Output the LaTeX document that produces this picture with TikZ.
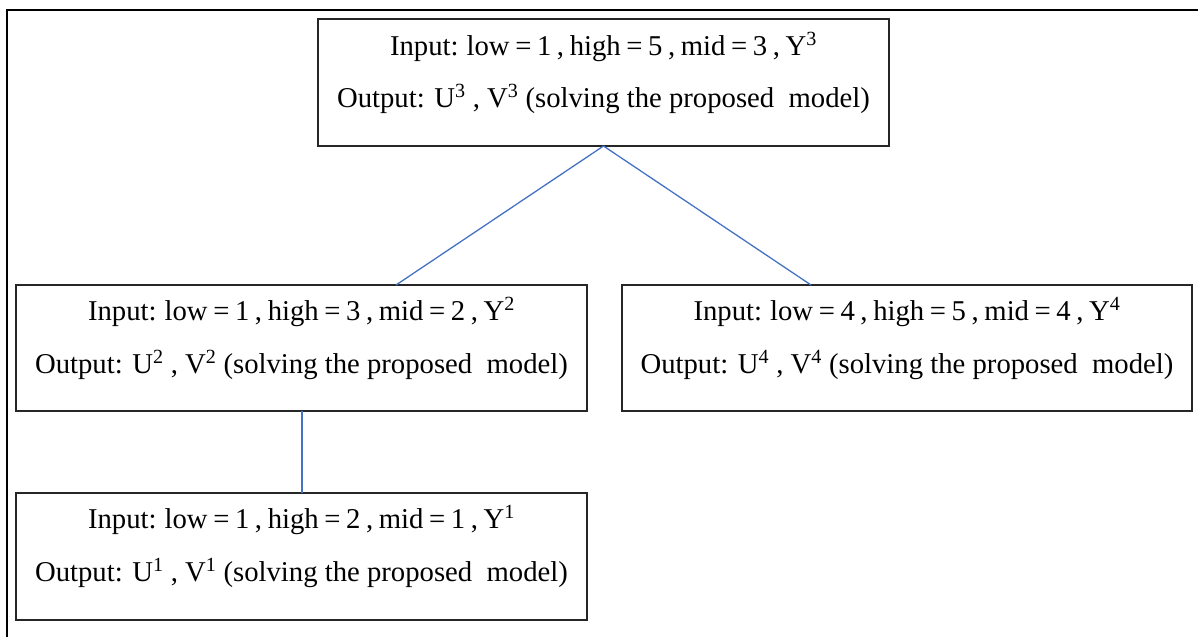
\documentclass[tikz,border=0pt]{standalone}
\usepackage{fontspec}
\setmainfont{Liberation Serif}
\definecolor{connblue}{HTML}{4472C4}
\tikzset{
  box/.style={draw=black!85, line width=1.5pt, minimum width=571pt, minimum height=127pt, inner sep=0pt, outer sep=0pt},
  txt/.style={anchor=base, inner sep=0pt, font=\fontsize{28.7}{34}\selectfont},
  intxt/.style={txt, execute at begin node={\spaceskip=5.6pt plus 0pt minus 0pt\relax}},
  conn/.style={draw=connblue, line width=1.3pt},
  frame/.style={draw=black, line width=2.5pt}
}
\begin{document}
\begin{tikzpicture}[x=1pt,y=-1pt]
\useasboundingbox (0,0) rectangle (1198,637);
% outer frame (only top and left visible)
\coordinate (fa) at (7,637);
\coordinate (fb) at (7,10);
\coordinate (fc) at (1198,10);
\draw[frame] (fa) -- (fb) -- (fc);
% boxes
\node[box] (T) at (603.5,82.5) {};
\node[box, minimum height=126pt] (L) at (301.5,348) {};
\node[box, minimum height=126pt, minimum width=570pt] (R) at (907,348) {};
\node[box] (B) at (301.5,556.5) {};
% texts
\node[intxt] (t1) at (603.5,55) {Input: low = 1 , high = 5 , mid = 3 , Y\textsuperscript{3}};
\node[txt] (t2) at (603.5,107) {Output: U\textsuperscript{3} , V\textsuperscript{3} (solving the proposed\ \ model)};
\node[intxt] (l1) at (301.5,320) {Input: low = 1 , high = 3 , mid = 2 , Y\textsuperscript{2}};
\node[txt] (l2) at (301.5,373) {Output: U\textsuperscript{2} , V\textsuperscript{2} (solving the proposed\ \ model)};
\node[intxt] (r1) at (907,320) {Input: low = 4 , high = 5 , mid = 4 , Y\textsuperscript{4}};
\node[txt] (r2) at (907,373) {Output: U\textsuperscript{4} , V\textsuperscript{4} (solving the proposed\ \ model)};
\node[intxt] (b1) at (301.5,528) {Input: low = 1 , high = 2 , mid = 1 , Y\textsuperscript{1}};
\node[txt] (b2) at (301.5,581) {Output: U\textsuperscript{1} , V\textsuperscript{1} (solving the proposed\ \ model)};
% connectors
\coordinate (lt) at (396,285);
\coordinate (rt) at (811,285);
\draw[conn] (T.south) -- (lt);
\draw[conn] (T.south) -- (rt);
\draw[conn] ([xshift=0.5pt]L.south) -- ([xshift=0.5pt]B.north);
\end{tikzpicture}
\end{document}
